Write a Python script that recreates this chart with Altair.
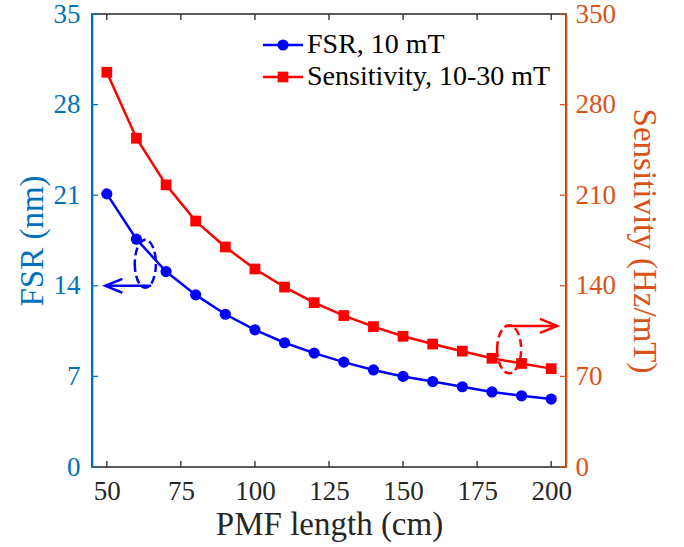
import altair as alt
import pandas as pd

# ---------------- data ----------------
pmf_length = [50, 60, 70, 80, 90, 100, 110, 120, 130, 140, 150, 160, 170, 180, 190, 200]
fsr_nm = [21.1, 17.6, 15.1, 13.3, 11.8, 10.6, 9.6, 8.8, 8.1, 7.5, 7.0, 6.6, 6.2, 5.8, 5.5, 5.25]
sens_hz = [305, 254, 218, 190, 170, 153, 139, 127, 117, 108.5, 101, 95, 89.5, 84, 80, 76]

x_ticks = [50, 75, 100, 125, 150, 175, 200]
fsr_ticks = [0, 7, 14, 21, 28, 35]
sens_ticks = [0, 70, 140, 210, 280, 350]

legend_labels = ["FSR, 10 mT", "Sensitivity, 10-30 mT"]

# annotation anchors (data coordinates)
blue_ellipse = {"x": [63], "y": [15.7]}
blue_arrow = {"x": [65], "x2": [49.5], "y": [14]}
red_ellipse = {"x": [185.8], "y": [91]}
red_arrow = {"x": [185], "x2": [202], "y": [109]}

# ---------------- style ----------------
FONT = "Liberation Serif"
W, H = 474, 453
BLUE = "#0000FF"
RED = "#FF0000"
AX_BLUE = "#0072BD"
AX_ORANGE = "#D95319"
DARK = "#262626"
TICK = 6
LBL = 27
TTL = 33

df = pd.DataFrame({"x": pmf_length, "fsr": fsr_nm, "sens": sens_hz})

xscale = alt.Scale(domain=[45, 205], nice=False, zero=False)
ylscale = alt.Scale(domain=[0, 35], nice=False)
yrscale = alt.Scale(domain=[0, 350], nice=False)

xaxis = alt.Axis(values=x_ticks, title="PMF length (cm)", ticks=False, domain=False,
                 grid=False, labelFont=FONT, labelFontSize=LBL, labelColor=DARK,
                 labelPadding=11, titleFont=FONT, titleFontSize=TTL, titleFontWeight="normal",
                 titleColor=DARK, titlePadding=4, labelFlush=False)
ylaxis = alt.Axis(values=fsr_ticks, title="FSR (nm)", ticks=False, domain=True,
                  domainColor=AX_BLUE, domainWidth=1.6, grid=False, labelFont=FONT,
                  labelFontSize=LBL, labelColor=AX_BLUE, labelPadding=12, titleFont=FONT,
                  titleFontSize=TTL, titleFontWeight="normal", titleColor=AX_BLUE,
                  titlePadding=4, labelFlush=False)
yraxis = alt.Axis(values=sens_ticks, title="Sensitivity (Hz/mT)", orient="right", ticks=False,
                  domain=True, domainColor=AX_ORANGE, domainWidth=1.6, grid=False,
                  labelFont=FONT, labelFontSize=LBL, labelColor=AX_ORANGE, labelPadding=9,
                  titleFont=FONT, titleFontSize=TTL, titleFontWeight="normal",
                  titleColor=AX_ORANGE, titlePadding=11, labelFlush=False)

ellipse_blue_path = "M -0.44 0 A 0.44 1 0 1 0 0.44 0 A 0.44 1 0 1 0 -0.44 0 Z"
ellipse_red_path = "M -0.5 0 A 0.5 1 0 1 0 0.5 0 A 0.5 1 0 1 0 -0.5 0 Z"
head_left = "M 2 -0.82 L 0 0 L 2 0.82"
head_right = "M -2 -0.82 L 0 0 L -2 0.82"


def X(field):
    return alt.X(field, scale=xscale, axis=xaxis)


def YL(field):
    return alt.Y(field, scale=ylscale, axis=ylaxis)


def YR(field):
    return alt.Y(field, scale=yrscale, axis=yraxis)


# ---------------- left (FSR) layer ----------------
base_l = alt.Chart(df).encode(x=X("x:Q"), y=YL("fsr:Q"))
fsr_line = base_l.mark_line(color=BLUE, strokeWidth=2.5)
fsr_pts = base_l.mark_point(filled=True, shape="circle", size=125, color=BLUE, opacity=1)

tick_l = alt.Chart(pd.DataFrame({"v": fsr_ticks})).mark_rule(color=AX_BLUE, strokeWidth=1.3).encode(
    y=YL("v:Q"), x=alt.value(0), x2=alt.value(TICK))
tick_xb = alt.Chart(pd.DataFrame({"v": x_ticks})).mark_rule(color=DARK, strokeWidth=1.3).encode(
    x=X("v:Q"), y=alt.value(H), y2=alt.value(H - TICK))
tick_xt = alt.Chart(pd.DataFrame({"v": x_ticks})).mark_rule(color=DARK, strokeWidth=1.3).encode(
    x=X("v:Q"), y=alt.value(0), y2=alt.value(TICK))

bl_ell = alt.Chart(pd.DataFrame(blue_ellipse)).mark_point(
    shape=ellipse_blue_path, size=2304, filled=False, color=BLUE, strokeWidth=2.5,
    strokeDash=[8, 4], opacity=1).encode(x=X("x:Q"), y=YL("y:Q"))
bl_arr = alt.Chart(pd.DataFrame(blue_arrow)).mark_rule(color=BLUE, strokeWidth=2.5).encode(
    x=X("x:Q"), x2="x2:Q", y=YL("y:Q"))
bl_head = alt.Chart(pd.DataFrame(blue_arrow)).mark_point(
    shape=head_left, size=289, filled=False, color=BLUE, strokeWidth=2.5, opacity=1).encode(
    x=X("x2:Q"), y=YL("y:Q"))

left = alt.layer(fsr_line, fsr_pts, tick_l, tick_xb, tick_xt, bl_ell, bl_arr, bl_head)

# ---------------- right (Sensitivity) layer ----------------
base_r = alt.Chart(df).encode(x=X("x:Q"), y=YR("sens:Q"))
sens_line = base_r.mark_line(color=RED, strokeWidth=2.5)
sens_pts = base_r.mark_point(filled=True, shape="square", size=115, color=RED, opacity=1)

tick_r = alt.Chart(pd.DataFrame({"v": sens_ticks})).mark_rule(color=AX_ORANGE, strokeWidth=1.3).encode(
    y=YR("v:Q"), x=alt.value(W - TICK), x2=alt.value(W))

rd_ell = alt.Chart(pd.DataFrame(red_ellipse)).mark_point(
    shape=ellipse_red_path, size=2304, filled=False, color=RED, strokeWidth=2.5,
    strokeDash=[8, 4], opacity=1).encode(x=X("x:Q"), y=YR("y:Q"))
rd_arr = alt.Chart(pd.DataFrame(red_arrow)).mark_rule(color=RED, strokeWidth=2.5).encode(
    x=X("x:Q"), x2="x2:Q", y=YR("y:Q"))
rd_head = alt.Chart(pd.DataFrame(red_arrow)).mark_point(
    shape=head_right, size=289, filled=False, color=RED, strokeWidth=2.5, opacity=1).encode(
    x=X("x2:Q"), y=YR("y:Q"))

# ---------------- manual legend ----------------
leg = []
rows = [(31, BLUE, "circle", 125), (63, RED, "square", 115)]
for (yy, col, shp, sz), lab in zip(rows, legend_labels):
    leg.append(alt.Chart(pd.DataFrame({"l": [lab]})).mark_rule(color=col, strokeWidth=2.5).encode(
        x=alt.value(171), x2=alt.value(211), y=alt.value(yy)))
    leg.append(alt.Chart(pd.DataFrame({"l": [lab]})).mark_point(
        filled=True, shape=shp, size=sz, color=col, opacity=1).encode(
        x=alt.value(191), y=alt.value(yy)))
    leg.append(alt.Chart(pd.DataFrame({"l": [lab]})).mark_text(
        align="left", baseline="middle", font=FONT, fontSize=28, color="black").encode(
        x=alt.value(215), y=alt.value(yy), text="l:N"))

right = alt.layer(sens_line, sens_pts, tick_r, rd_ell, rd_arr, rd_head, *leg)

chart = alt.layer(left, right).resolve_scale(y="independent").properties(
    width=W, height=H,
    padding={"left": 92, "top": 14, "right": 684 - 92 - W, "bottom": 547 - 14 - H},
    autosize=alt.AutoSizeParams(type="none"),
    background="white",
).configure_view(stroke=DARK, strokeWidth=1.6)

chart.save("out.html", embed_options={"renderer": "svg", "actions": False})
